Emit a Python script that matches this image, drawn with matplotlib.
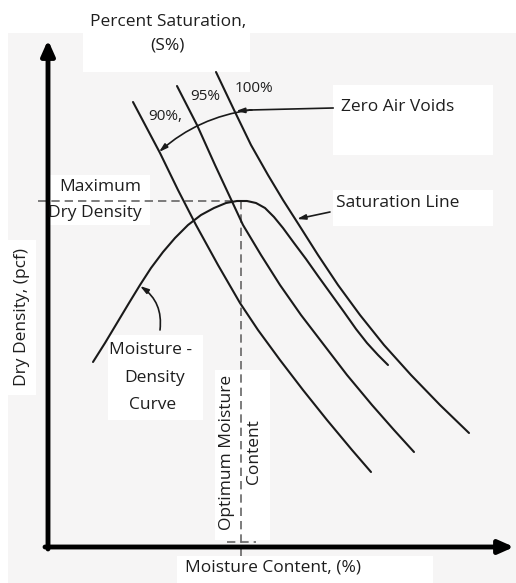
import matplotlib.pyplot as plt
from matplotlib.patches import Rectangle

plt.rcParams['font.family'] = ['Open Sans', 'DejaVu Sans']

# sketch units: x grows with moisture content, y grows downward (lower density)
# percent-saturation (zero air voids) lines
sat90_x = [133, 160, 178, 196, 218, 240, 258, 280, 303, 327, 352, 371]
sat90_y = [102, 153, 190, 225, 265, 303, 330, 360, 390, 420, 450, 472]
sat95_x = [177, 197, 215, 229, 243, 261, 280, 301, 324, 347, 372, 394, 414]
sat95_y = [86, 125, 165, 195, 225, 255, 285, 315, 345, 375, 405, 430, 452]
sat100_x = [216, 235, 251, 268, 283, 299, 318, 338, 360, 384, 411, 440, 469]
sat100_y = [72, 112, 145, 175, 200, 225, 255, 285, 315, 345, 375, 405, 433]
sat_labels = ['90%,', '95%', '100%']

# compaction (moisture-density) curve
md_x = [93, 105, 117, 129, 140, 151, 163, 175, 188, 201, 214, 226, 237, 247, 256,
        265, 274, 283, 294, 306, 318, 331, 344, 356, 367, 378, 388]
md_y = [362, 343, 323, 303, 285, 268, 252, 238, 225, 215, 208, 203, 201, 201, 203,
        208, 217, 228, 243, 259, 276, 294, 312, 329, 343, 355, 365]

# optimum point
opt_x = 241
max_y = 201

fig = plt.figure(figsize=(5.16, 5.83), dpi=100)
ax = fig.add_axes([0, 0, 1, 1])
ax.set_xlim(0, 516)
ax.set_ylim(583, 0)
ax.axis('off')

# faint stippled background with white label patches
ax.add_patch(Rectangle((8, 33), 508, 550, color='#f6f5f5', zorder=0, lw=0))
for (x0, y0, w, h) in [(83, 0, 167, 72), (333, 85, 160, 70), (333, 190, 160, 36),
                       (50, 175, 100, 50), (108, 335, 95, 85), (215, 370, 55, 170),
                       (177, 556, 256, 27), (8, 240, 28, 155)]:
    ax.add_patch(Rectangle((x0, y0), w, h, color='white', zorder=0.5, lw=0))

line_kw = dict(color='#1a1a1a', lw=1.5, solid_capstyle='round', solid_joinstyle='round', zorder=3)
ax.plot(sat90_x, sat90_y, **line_kw)
ax.plot(sat95_x, sat95_y, **line_kw)
ax.plot(sat100_x, sat100_y, **line_kw)
ax.plot(md_x, md_y, **line_kw)

# dashed guides to max dry density / optimum moisture
dash_kw = dict(color='#666666', lw=1.2, ls=(0, (5, 3)), zorder=2)
ax.plot([38, opt_x], [max_y, max_y], **dash_kw)
ax.plot([opt_x, opt_x], [max_y, 556], **dash_kw)
ax.plot([227, 256], [542, 542], **dash_kw)

# axes with arrows
ax.annotate('', xy=(48, 40), xytext=(48, 549),
            arrowprops=dict(arrowstyle='-|>,head_length=0.9,head_width=0.4',
                            lw=3.5, color='black', shrinkA=0, shrinkB=0), zorder=4)
ax.annotate('', xy=(514, 547), xytext=(45, 547),
            arrowprops=dict(arrowstyle='-|>,head_length=0.9,head_width=0.4',
                            lw=3.5, color='black', shrinkA=0, shrinkB=0), zorder=4)

# callout arrows
small = dict(arrowstyle='-|>,head_length=0.5,head_width=0.15', lw=1.2, color='#1a1a1a',
             shrinkA=0, shrinkB=0)
ax.plot([333, 250], [108, 110], color='#1a1a1a', lw=1.2)
ax.annotate('', xy=(236, 111), xytext=(252, 110), arrowprops=small)
ax.annotate('', xy=(159, 152), xytext=(250, 110),
            arrowprops=dict(small, connectionstyle='arc3,rad=0.15'))
ax.annotate('', xy=(297, 219), xytext=(330, 212), arrowprops=small)
ax.annotate('', xy=(140, 286), xytext=(160, 330),
            arrowprops=dict(small, connectionstyle='arc3,rad=0.3'))

txt = dict(fontsize=12.5, color='#1e1e1e', ha='center', va='center', zorder=5)
ax.text(168, 22, 'Percent Saturation,', **txt)
ax.text(167, 45, '(S%)', **txt)
for lbl, (lx, ly) in zip(sat_labels, [(165, 116), (205, 97), (254, 88)]):
    ax.text(lx, ly, lbl, **dict(txt, fontsize=11))
ax.text(398, 107, 'Zero Air Voids', **txt)
ax.text(398, 203, 'Saturation Line', **txt)
ax.text(100, 187, 'Maximum', **txt)
ax.text(95, 213, 'Dry Density', **txt)
ax.text(151, 350, 'Moisture -', **txt)
ax.text(155, 378, 'Density', **txt)
ax.text(153, 405, 'Curve', **txt)
ax.text(227, 452, 'Optimum Moisture', rotation=90, **txt)
ax.text(254, 452, 'Content', rotation=90, **txt)
ax.text(22, 317, 'Dry Density, (pcf)', rotation=90, **txt)
ax.text(273, 567, 'Moisture Content, (%)', **txt)

fig.savefig('out.png', dpi=100)
